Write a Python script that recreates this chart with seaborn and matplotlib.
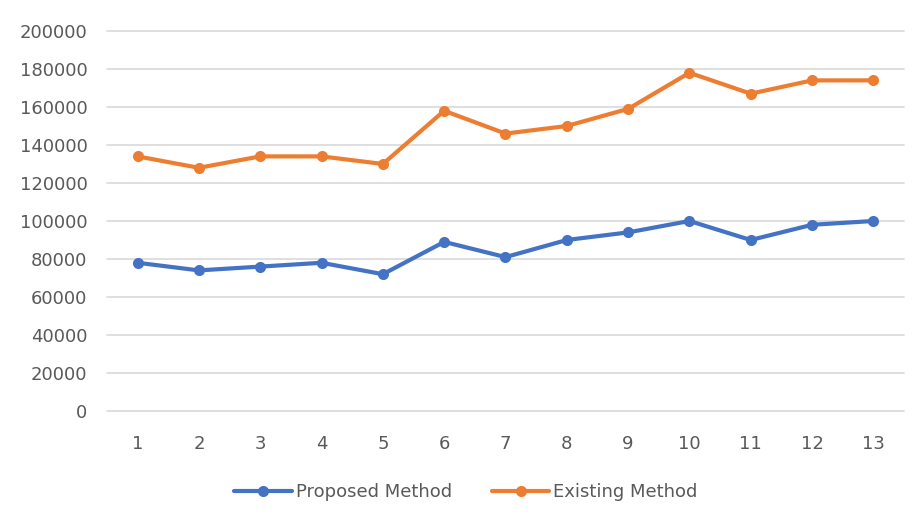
import numpy as np
import pandas as pd
import matplotlib
matplotlib.use("Agg")
import matplotlib.pyplot as plt
import seaborn as sns

x_labels = list(range(1, 14))
proposed = [78000, 74000, 76000, 78000, 72000, 89000, 81000, 90000, 94000, 100000, 90000, 98000, 100000]
existing = [134000, 128000, 134000, 134000, 130000, 158000, 146000, 150000, 159000, 178000, 167000, 174000, 174000]
series_names = ["Proposed Method", "Existing Method"]
colors = ["#4472C4", "#ED7D31"]
y_ticks = list(range(0, 200001, 20000))

df = pd.DataFrame({
    "x": x_labels * 2,
    "value": proposed + existing,
    "series": [series_names[0]] * len(x_labels) + [series_names[1]] * len(x_labels),
})

sns.set_theme(style="white")
plt.rcParams['font.family'] = ['DejaVu Sans']

fig = plt.figure(figsize=(9.19, 5.19), dpi=100)
ax = fig.add_axes([0.1164, 0.2081, 0.8673, 0.7322])

sns.lineplot(data=df, x="x", y="value", hue="series", palette=colors,
             marker="o", markersize=8, linewidth=3, markeredgewidth=0,
             ax=ax, legend=False)

ax.set_xlim(0.5, 13.5)
ax.set_ylim(0, 200000)
ax.set_yticks(y_ticks)
ax.set_yticklabels([str(v) for v in y_ticks])
ax.set_xticks(x_labels)
ax.set_xticklabels([str(v) for v in x_labels])
ax.yaxis.grid(True, color="#D9D9D9", linewidth=1.2)
for gl in ax.get_ygridlines():
    gl.set_clip_on(False)
ax.set_axisbelow(True)
for s in ax.spines.values():
    s.set_visible(False)
ax.tick_params(axis="both", length=0, labelsize=13, colors="#595959")
ax.tick_params(axis="y", pad=14)
ax.tick_params(axis="x", pad=17)
ax.set_xlabel("")
ax.set_ylabel("")

from matplotlib.lines import Line2D
handles = [Line2D([0], [0], color=c, linewidth=3, marker="o", markersize=8, markeredgewidth=0)
           for c in colors]
leg = fig.legend(handles, series_names, loc="center", bbox_to_anchor=(0.507, 0.052),
                 ncol=2, frameon=False, fontsize=13, handlelength=3.2,
                 handletextpad=0.2, columnspacing=2.2)
for t in leg.get_texts():
    t.set_color("#595959")

fig.savefig("out.png", dpi=100)
